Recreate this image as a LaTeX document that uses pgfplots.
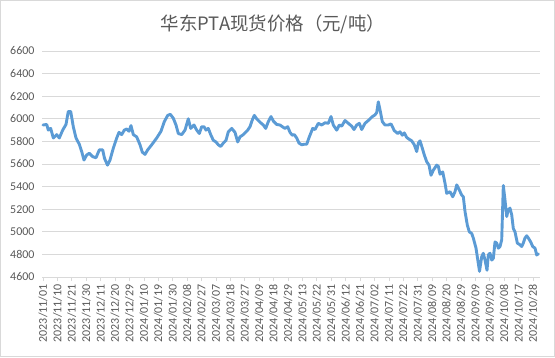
\documentclass[border=0pt]{standalone}
\usepackage{fontspec}
\setmainfont{Carlito}
\newfontfamily\cjk{Noto Sans CJK SC}
\usepackage{pgfplots}
\pgfplotsset{compat=1.18}
\definecolor{linec}{HTML}{5B9BD5}
\definecolor{gridc}{HTML}{D9D9D9}
\definecolor{txt}{HTML}{595959}
\begin{document}
\begin{tikzpicture}[x=1bp,y=1bp]
\useasboundingbox (0,0) rectangle (555,357);
\draw[gridc, line width=0.75bp] (0.5,0.5) rectangle (554.5,356.5);
\node[txt, font=\cjk\fontsize{18.5}{20}\selectfont] at (273,333) {华东PTA现货价格（元/吨）};
\begin{axis}[
  at={(42bp,80bp)}, anchor=south west,
  scale only axis, width=498bp, height=226bp,
  xmin=42, xmax=540, ymin=4600, ymax=6600,
  ytick={4600,4800,...,6600},
  xtick={43,57.41,71.82,86.24,100.65,115.06,129.47,143.88,158.29,172.71,187.12,201.53,215.94,230.35,244.76,259.18,273.59,288.00,302.41,316.82,331.24,345.65,360.06,374.47,388.88,403.29,417.71,432.12,446.53,460.94,475.35,489.76,504.18,518.59,533.0},
  xticklabels={2023/11/01,2023/11/10,2023/11/21,2023/11/30,2023/12/11,2023/12/20,2023/12/29,2024/01/10,2024/01/19,2024/01/30,2024/02/08,2024/02/27,2024/03/07,2024/03/18,2024/03/27,2024/04/09,2024/04/18,2024/04/29,2024/05/13,2024/05/22,2024/05/31,2024/06/12,2024/06/21,2024/07/02,2024/07/11,2024/07/22,2024/07/31,2024/08/09,2024/08/20,2024/08/29,2024/09/09,2024/09/20,2024/10/08,2024/10/17,2024/10/28},
  minor x tick num=6,
  axis lines*=left,
  y axis line style={draw=none},
  x axis line style={draw=gridc, line width=0.75bp, -},
  ytick style={draw=none},
  xtick style={draw=gridc, line width=0.75bp},
  minor x tick style={draw=gridc, line width=0.75bp},
  tick align=outside,
  major tick length=4bp, minor tick length=4bp,
  ymajorgrids, grid style={gridc, line width=0.75bp},
  ticklabel style={font=\fontsize{12}{12}\selectfont, text=txt},
  xticklabel style={rotate=90, anchor=east, xshift=0bp, yshift=0bp},
  /pgf/number format/assume math mode=true,
  /pgf/number format/set thousands separator={},
  clip=false,
]
\addplot[linec, line width=2.9bp, no markers, line join=round, line cap=round] coordinates {
(43,5945)(46.7,5950)(48.3,5900)(50.7,5915)(53.3,5830)(56.7,5860)(59.3,5830)(62.7,5900)
(66,5950)(68.3,6065)(70.7,6065)(73.3,5930)(76,5830)(79.3,5775)(81.7,5710)(84,5635)
(86.7,5680)(89.3,5695)(92.7,5665)(96,5655)(99.3,5725)(102.7,5725)(104.5,5650)(107.5,5590)
(110,5635)(113.3,5740)(116.7,5830)(119,5880)(121.7,5860)(124.3,5900)(126.7,5910)(129,5890)
(131,5940)(133.3,5860)(136.7,5840)(140,5770)(142.3,5705)(145,5685)(147.7,5725)(151.7,5770)
(156.7,5830)(161,5890)(164.3,5975)(167.7,6030)(170.3,6040)(173.3,6005)(176,5945)(178.3,5870)
(181.7,5860)(185,5900)(188.3,6000)(190.7,5915)(194,5945)(196.7,5900)(199.3,5870)(201.7,5930)
(204,5930)(206,5900)(208.3,5915)(210.7,5860)(213.3,5810)(216,5795)(218.3,5770)(220.7,5755)
(223.3,5785)(226,5810)(228.3,5885)(231.7,5915)(235,5880)(237.7,5795)(240,5840)(243.3,5860)
(247.7,5900)(250,5930)(252.3,5990)(254.3,6030)(256.7,6000)(260,5970)(263.3,5945)(265.7,5915)
(268.3,5975)(271,6020)(273.3,5980)(276.7,5950)(280,5945)(282.3,5930)(285,5915)(287.7,5930)
(290,5880)(292.3,5855)(294.3,5860)(296.7,5830)(299,5785)(301.7,5770)(304.3,5775)(306.7,5775)
(309.3,5840)(312.7,5915)(315,5905)(318.3,5960)(321.7,5945)(325,5965)(328.3,5960)(331,6020)
(333.3,5945)(336.7,5900)(339.3,5945)(341.7,5935)(345,5985)(348.3,5960)(351.7,5935)(354,5905)
(356.7,5945)(359.3,5960)(361.7,5905)(365,5960)(368.3,5985)(371.7,6015)(375,6035)(376.7,6055)
(378.3,6150)(380,6080)(382.3,5975)(385,5945)(388.3,5945)(391,5955)(394.3,5895)(397.7,5870)
(400,5885)(402.3,5855)(404.3,5875)(406.7,5835)(409,5820)(411.7,5805)(414.3,5770)(416.7,5710)
(418.3,5785)(420,5805)(422.3,5740)(424.3,5680)(426.7,5620)(429,5590)(431,5500)(433.3,5545)
(436.7,5590)(438.3,5580)(440,5510)(442.7,5530)(445,5430)(446.7,5340)(450,5355)(452.7,5310)
(455,5355)(456.7,5415)(459.3,5370)(461.7,5325)(463.3,5310)(465,5180)(467.3,5060)(469.3,5000)
(471.7,4985)(473.3,4945)(476,4855)(478.3,4720)(479.5,4650)(481.7,4780)(483.3,4810)(485,4750)
(487,4660)(488.3,4795)(490,4810)(491.7,4750)(493.3,4765)(495,4910)(496.7,4900)(498.3,4855)
(500,4870)(501.7,4930)(503.3,5410)(505,5280)(506.7,5135)(508.3,5195)(510,5210)(511.7,5150)
(513.3,5030)(515,5000)(517.3,4900)(520,4885)(521.7,4870)(523.3,4900)(525,4945)(526.7,4965)
(528.3,4945)(530.7,4910)(532.7,4870)(535,4855)(536.7,4795)(538.3,4805)
};
\end{axis}
\end{tikzpicture}
\end{document}
